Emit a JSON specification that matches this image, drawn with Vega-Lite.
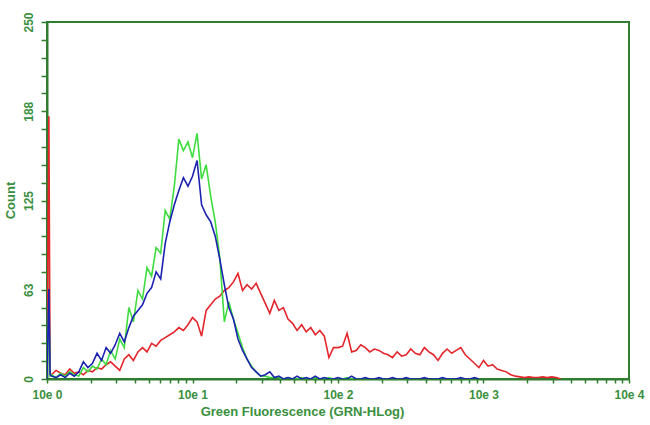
{
  "$schema": "https://vega.github.io/schema/vega-lite/v6.json",
  "width": 582,
  "height": 357,
  "autosize": "none",
  "padding": {"left": 47, "top": 22, "right": 21, "bottom": 46},
  "background": "white",
  "config": {
    "view": {"stroke": "#2f7d2f", "strokeWidth": 2},
    "axis": {
      "domainColor": "#2f7d2f", "domainWidth": 2, "tickColor": "#2f7d2f", "tickWidth": 1.5,
      "labelColor": "#3a9040", "titleColor": "#3a9040", "grid": false,
      "labelFont": "Liberation Sans Narrow, Liberation Sans", "titleFont": "Liberation Sans Narrow, Liberation Sans",
      "labelFontWeight": "bold", "titleFontWeight": "bold", "labelFontSize": 12, "titleFontSize": 13
    }
  },
  "data": {"values": [
    {"x": 1, "g": 0, "b": 0, "r": 0},
    {"x": 1.03, "g": 55, "b": 63, "r": 184},
    {"x": 1.05, "g": 2, "b": 3, "r": 4},
    {"x": 1.075, "g": 3, "b": 2, "r": 3},
    {"x": 1.155, "g": 1, "b": 1, "r": 6},
    {"x": 1.241, "g": 4, "b": 3, "r": 4},
    {"x": 1.334, "g": 2, "b": 1, "r": 3},
    {"x": 1.433, "g": 5, "b": 4, "r": 7},
    {"x": 1.54, "g": 3, "b": 2, "r": 4},
    {"x": 1.655, "g": 2, "b": 5, "r": 5},
    {"x": 1.778, "g": 8, "b": 12, "r": 3},
    {"x": 1.911, "g": 5, "b": 8, "r": 6},
    {"x": 2.054, "g": 9, "b": 11, "r": 5},
    {"x": 2.207, "g": 7, "b": 18, "r": 8},
    {"x": 2.371, "g": 14, "b": 13, "r": 7},
    {"x": 2.548, "g": 10, "b": 22, "r": 10},
    {"x": 2.738, "g": 20, "b": 18, "r": 12},
    {"x": 2.943, "g": 14, "b": 24, "r": 9},
    {"x": 3.162, "g": 28, "b": 32, "r": 6},
    {"x": 3.398, "g": 22, "b": 26, "r": 14},
    {"x": 3.652, "g": 50, "b": 36, "r": 17},
    {"x": 3.924, "g": 40, "b": 44, "r": 13},
    {"x": 4.217, "g": 62, "b": 48, "r": 19},
    {"x": 4.532, "g": 56, "b": 52, "r": 22},
    {"x": 4.87, "g": 78, "b": 60, "r": 19},
    {"x": 5.233, "g": 72, "b": 64, "r": 25},
    {"x": 5.623, "g": 92, "b": 75, "r": 23},
    {"x": 6.043, "g": 88, "b": 70, "r": 27},
    {"x": 6.494, "g": 118, "b": 95, "r": 29},
    {"x": 6.978, "g": 112, "b": 110, "r": 31},
    {"x": 7.499, "g": 135, "b": 122, "r": 33},
    {"x": 8.058, "g": 168, "b": 132, "r": 36},
    {"x": 8.66, "g": 160, "b": 141, "r": 34},
    {"x": 9.306, "g": 166, "b": 135, "r": 38},
    {"x": 10, "g": 155, "b": 142, "r": 43},
    {"x": 10.75, "g": 172, "b": 153, "r": 40},
    {"x": 11.55, "g": 140, "b": 122, "r": 30},
    {"x": 12.41, "g": 150, "b": 115, "r": 48},
    {"x": 13.34, "g": 128, "b": 110, "r": 52},
    {"x": 14.33, "g": 110, "b": 100, "r": 56},
    {"x": 15.4, "g": 85, "b": 84, "r": 58},
    {"x": 16.55, "g": 40, "b": 66, "r": 62},
    {"x": 17.78, "g": 54, "b": 50, "r": 64},
    {"x": 19.11, "g": 42, "b": 42, "r": 68},
    {"x": 20.54, "g": 32, "b": 28, "r": 74},
    {"x": 22.07, "g": 22, "b": 20, "r": 62},
    {"x": 23.71, "g": 14, "b": 14, "r": 66},
    {"x": 25.48, "g": 9, "b": 8, "r": 63},
    {"x": 27.38, "g": 5, "b": 5, "r": 67},
    {"x": 29.43, "g": 2, "b": 2, "r": 60},
    {"x": 31.62, "g": 2, "b": 3, "r": 53},
    {"x": 33.98, "g": 1, "b": 5, "r": 46},
    {"x": 36.52, "g": 1, "b": 1, "r": 55},
    {"x": 39.24, "g": 1, "b": 2, "r": 48},
    {"x": 42.17, "g": 0, "b": 0, "r": 50},
    {"x": 45.32, "g": 1, "b": 1, "r": 42},
    {"x": 48.7, "g": 0, "b": 0, "r": 39},
    {"x": 52.33, "g": 0, "b": 2, "r": 34},
    {"x": 56.23, "g": 1, "b": 0, "r": 38},
    {"x": 60.43, "g": 0, "b": 1, "r": 33},
    {"x": 64.94, "g": 0, "b": 0, "r": 36},
    {"x": 69.78, "g": 1, "b": 2, "r": 31},
    {"x": 74.99, "g": 0, "b": 0, "r": 34},
    {"x": 80.58, "g": 0, "b": 1, "r": 30},
    {"x": 86.6, "g": 1, "b": 0, "r": 15},
    {"x": 93.06, "g": 0, "b": 0, "r": 22},
    {"x": 100, "g": 0, "b": 1, "r": 22},
    {"x": 107.5, "g": 0, "b": 0, "r": 23},
    {"x": 115.5, "g": 1, "b": 0, "r": 32},
    {"x": 124.1, "g": 0, "b": 2, "r": 19},
    {"x": 133.4, "g": 0, "b": 0, "r": 20},
    {"x": 143.3, "g": 0, "b": 0, "r": 24},
    {"x": 154, "g": 0, "b": 1, "r": 22},
    {"x": 165.5, "b": 0, "r": 19},
    {"x": 177.8, "b": 0, "r": 21},
    {"x": 191.1, "b": 1, "r": 20},
    {"x": 205.4, "b": 0, "r": 18},
    {"x": 220.7, "b": 0, "r": 17},
    {"x": 237.1, "b": 1, "r": 15},
    {"x": 254.8, "b": 0, "r": 19},
    {"x": 273.8, "b": 0, "r": 16},
    {"x": 294.3, "b": 1, "r": 17},
    {"x": 316.2, "b": 0, "r": 21},
    {"x": 339.8, "b": 0, "r": 18},
    {"x": 365.2, "b": 0, "r": 17},
    {"x": 392.4, "b": 1, "r": 22},
    {"x": 421.7, "b": 0, "r": 19},
    {"x": 453.2, "b": 0, "r": 17},
    {"x": 487, "b": 0, "r": 13},
    {"x": 523.3, "b": 1, "r": 18},
    {"x": 562.3, "b": 0, "r": 21},
    {"x": 604.3, "b": 0, "r": 18},
    {"x": 649.4, "b": 0, "r": 20},
    {"x": 697.8, "b": 1, "r": 22},
    {"x": 749.9, "b": 0, "r": 17},
    {"x": 805.8, "b": 0, "r": 14},
    {"x": 866, "b": 1, "r": 11},
    {"x": 930.6, "b": 0, "r": 8},
    {"x": 1000, "r": 13},
    {"x": 1075, "r": 9},
    {"x": 1155, "r": 10},
    {"x": 1241, "r": 7},
    {"x": 1334, "r": 6},
    {"x": 1433, "r": 5},
    {"x": 1540, "r": 3},
    {"x": 1655, "r": 2},
    {"x": 1778, "r": 1.5},
    {"x": 1911, "r": 1},
    {"x": 2054, "r": 1.5},
    {"x": 2207, "r": 1},
    {"x": 2371, "r": 1},
    {"x": 2548, "r": 1.5},
    {"x": 2738, "r": 1},
    {"x": 2943, "r": 1.5},
    {"x": 3162, "r": 1},
    {"x": 3398, "r": 0}
  ]},
  "encoding": {
    "x": {
      "field": "x", "type": "quantitative",
      "scale": {"type": "log", "domain": [1, 10000], "nice": false},
      "axis": {
        "title": "Green Fluorescence (GRN-HLog)",
        "values": [1,2,3,4,5,6,7,8,9,10,20,30,40,50,60,70,80,90,100,200,300,400,500,600,700,800,900,1000,2000,3000,4000,5000,6000,7000,8000,9000,10000],
        "labelExpr": "indexof([1,10,100,1000,10000], datum.value) >= 0 ? '10e ' + round(log(datum.value)/LN10) : ''",
        "tickSize": 4, "labelPadding": 6, "titlePadding": 5, "titleX": 255, "labelFlush": false
      }
    },
    "y": {
      "type": "quantitative",
      "scale": {"domain": [0, 250], "nice": false},
      "axis": {
        "title": "Count",
        "values": [0,12.5,25,37.5,50,62.5,75,87.5,100,112.5,125,137.5,150,162.5,175,187.5,200,212.5,225,237.5,250],
        "labelExpr": "datum.value % 62.5 == 0 ? '' + round(datum.value) : ''",
        "labelAngle": -90, "labelAlign": "center", "labelBaseline": "middle",
        "tickSize": 6, "labelPadding": 13,
        "titleX": -30, "titleY": 178, "titleAngle": -90, "titleAlign": "center", "titleBaseline": "bottom"
      }
    }
  },
  "layer": [
    {
      "transform": [{"filter": "isValid(datum.r)"}],
      "mark": {"type": "line", "color": "#e3262b", "strokeWidth": 1.6, "clip": true},
      "encoding": {"y": {"field": "r", "type": "quantitative"}}
    },
    {
      "transform": [{"filter": "isValid(datum.g)"}],
      "mark": {"type": "line", "color": "#3fdc3f", "strokeWidth": 1.6, "clip": true},
      "encoding": {"y": {"field": "g", "type": "quantitative"}}
    },
    {
      "transform": [{"filter": "isValid(datum.b)"}],
      "mark": {"type": "line", "color": "#1d22b0", "strokeWidth": 1.6, "clip": true},
      "encoding": {"y": {"field": "b", "type": "quantitative"}}
    }
  ]
}
